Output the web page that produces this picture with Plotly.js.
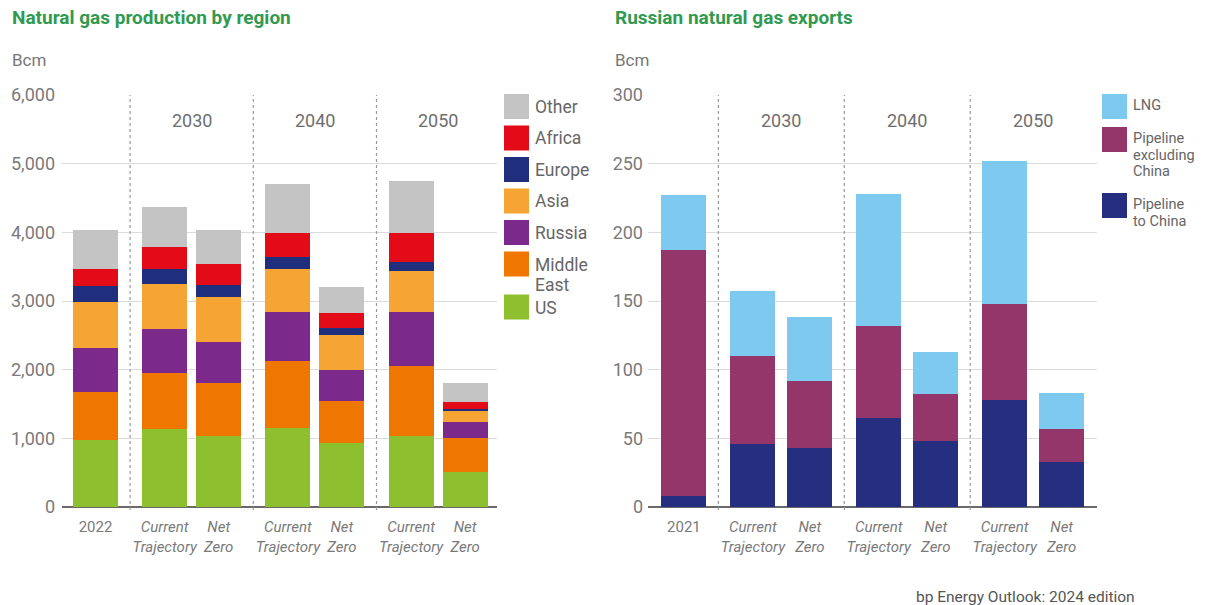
<!DOCTYPE html>
<html><head><meta charset="utf-8">
<script src="https://cdn.plot.ly/plotly-3.0.1.min.js"></script>
<style>body{margin:0;background:#fff}#chart{width:1217px;height:605px}</style>
</head><body><div id="chart"></div><script>
// ---------- DATA ----------
const prodCategories = ["2022", "2030 Current Trajectory", "2030 Net Zero", "2040 Current Trajectory", "2040 Net Zero", "2050 Current Trajectory", "2050 Net Zero"];
const prodTickLabels = ["2022", "<i>Current<br>Trajectory</i>", "<i>Net<br>Zero</i>", "<i>Current<br>Trajectory</i>", "<i>Net<br>Zero</i>", "<i>Current<br>Trajectory</i>", "<i>Net<br>Zero</i>"];
const prodUS         = [980, 1140, 1035, 1145, 935, 1040, 505];
const prodMiddleEast = [700, 810, 775, 980, 610, 1020, 495];
const prodRussia     = [640, 640, 590, 710, 450, 775, 235];
const prodAsia       = [670, 660, 655, 630, 510, 605, 165];
const prodEurope     = [230, 220, 180, 175, 95, 130, 30];
const prodAfrica     = [240, 315, 305, 345, 220, 425, 105];
const prodOther      = [580, 590, 490, 715, 390, 750, 265];

const expCategories = ["2021", "2030 Current Trajectory", "2030 Net Zero", "2040 Current Trajectory", "2040 Net Zero", "2050 Current Trajectory", "2050 Net Zero"];
const expTickLabels = ["2021", "<i>Current<br>Trajectory</i>", "<i>Net<br>Zero</i>", "<i>Current<br>Trajectory</i>", "<i>Net<br>Zero</i>", "<i>Current<br>Trajectory</i>", "<i>Net<br>Zero</i>"];
const expPipelineChina = [8, 46, 43, 65, 48, 78, 33];
const expPipelineExcl  = [179, 64, 49, 67, 34, 70, 24];
const expLNG           = [40, 47, 46, 96, 31, 104, 26];

const groupLabels = ["2030", "2040", "2050"];
const prodSeriesNames = ["US", "Middle<br>East", "Russia", "Asia", "Europe", "Africa", "Other"];
const expSeriesNames = ["Pipeline<br>to China", "Pipeline<br>excluding<br>China", "LNG"];

// ---------- STYLE ----------
const W = 1217, H = 605;
const FONT = "Roboto, 'Open Sans', sans-serif";
const prodColors = ["#8dbf2e", "#ee7601", "#7b2a8b", "#f6a434", "#1f2f7d", "#e30b17", "#c4c4c4"];
const expColors = ["#262f7f", "#95366b", "#7ec9ef"];
const px = x => x / W, py = y => 1 - y / H;

function slots(gap) { // bar positions: base year, then 3 groups of 2
  return [0, gap, gap + 1, 2 * gap + 1, 2 * gap + 2, 3 * gap + 2, 3 * gap + 3];
}
const posL = slots(1.28), posR = slots(1.21);

const prodSeries = [prodUS, prodMiddleEast, prodRussia, prodAsia, prodEurope, prodAfrica, prodOther];
const expSeries = [expPipelineChina, expPipelineExcl, expLNG];

const traces = [];
prodSeries.forEach((s, i) => traces.push({
  type: "bar", x: posL, y: s, xaxis: "x", yaxis: "y", width: 0.83,
  marker: {color: prodColors[i], line: {width: 0}}, name: prodSeriesNames[i].replace("<br>", " "),
  customdata: prodCategories, hovertemplate: "%{customdata}: %{y}<extra></extra>", showlegend: false
}));
expSeries.forEach((s, i) => traces.push({
  type: "bar", x: posR, y: s, xaxis: "x2", yaxis: "y2", width: 0.79,
  marker: {color: expColors[i], line: {width: 0}}, name: expSeriesNames[i].replace(/<br>/g, " "),
  customdata: expCategories, hovertemplate: "%{customdata}: %{y}<extra></extra>", showlegend: false
}));

const yBot = py(507), yTop = py(95);
const shapes = [], annotations = [];

// dividers + group labels
[[posL, "x"], [posR, "x2"]].forEach(([pos, xr]) => {
  for (let g = 0; g < 3; g++) {
    const xd = (pos[2 * g] + pos[2 * g + 1]) / 2;
    shapes.push({type: "line", xref: xr, yref: "paper", x0: xd, x1: xd, y0: py(510), y1: yTop,
      line: {color: "#9a9a9a", width: 1.2, dash: "3px,3px"}});
    const xc = (pos[2 * g + 1] + pos[2 * g + 2]) / 2;
    annotations.push({xref: xr, yref: "paper", x: xc, y: py(121), text: groupLabels[g], showarrow: false,
      xanchor: "center", yanchor: "middle", font: {family: FONT, size: 18, color: "#6e6e6e"}});
  }
});

// titles, units, source
const titleFont = {family: FONT, size: 19, color: "#2f9a50"};
annotations.push({xref: "paper", yref: "paper", x: px(10), y: py(18), text: "<b>Natural gas production by region</b>",
  showarrow: false, xanchor: "left", yanchor: "middle", font: titleFont});
annotations.push({xref: "paper", yref: "paper", x: px(613), y: py(18), text: "<b>Russian natural gas exports</b>",
  showarrow: false, xanchor: "left", yanchor: "middle", font: titleFont});
annotations.push({xref: "paper", yref: "paper", x: px(10), y: py(60), text: "Bcm", showarrow: false,
  xanchor: "left", yanchor: "middle", font: {family: FONT, size: 17, color: "#777"}});
annotations.push({xref: "paper", yref: "paper", x: px(613), y: py(60), text: "Bcm", showarrow: false,
  xanchor: "left", yanchor: "middle", font: {family: FONT, size: 17, color: "#777"}});
annotations.push({xref: "paper", yref: "paper", x: px(914), y: py(597), text: "bp Energy Outlook: 2024 edition", showarrow: false,
  xanchor: "left", yanchor: "middle", font: {family: FONT, size: 15.5, color: "#555"}});

// custom legends (top item first), one annotation per text line
function legend(names, colors, x0, yStart, sq, fontSize, lineStep, gap, firstOffset, extraPerLine) {
  let y = yStart;
  for (let i = names.length - 1; i >= 0; i--) {
    shapes.push({type: "rect", xref: "paper", yref: "paper", x0: px(x0), x1: px(x0 + sq), y0: py(y + sq), y1: py(y),
      fillcolor: colors[i], line: {width: 0}});
    const lines = names[i].split("<br>");
    lines.forEach((ln, k) => annotations.push({xref: "paper", yref: "paper", x: px(x0 + sq + 4),
      y: py(y + firstOffset + k * lineStep), text: ln, showarrow: false,
      xanchor: "left", yanchor: "middle", font: {family: FONT, size: fontSize, color: "#666"}}));
    y += sq + gap + (lines.length - 1) * extraPerLine;
  }
}
legend(prodSeriesNames, prodColors, 504, 94, 25, 17.5, 20, 6.5, 13, 11.5);
legend(expSeriesNames, expColors, 1102, 94, 25, 14.5, 16.5, 8, 11.5, 16.5);

const axisCommon = {showgrid: false, zeroline: false, showline: false, ticks: "", fixedrange: true, automargin: false};
const layout = {
  width: W, height: H, margin: {l: 0, r: 0, t: 0, b: 0}, paper_bgcolor: "#fff", plot_bgcolor: "#fff",
  barmode: "stack", bargap: 0, showlegend: false, font: {family: FONT, color: "#777"},
  xaxis: Object.assign({}, axisCommon, {domain: [px(62), px(497)], range: [-0.62, 7.43], tickmode: "array",
    tickvals: posL, ticktext: prodTickLabels, tickfont: {family: FONT, size: 15, color: "#7a7a7a"}, ticklabelstandoff: 9, anchor: "y"}),
  yaxis: Object.assign({}, axisCommon, {domain: [yBot, yTop], range: [0, 6000], tickvals: [0, 1000, 2000, 3000, 4000, 5000, 6000],
    ticktext: ["0", "1,000", "2,000", "3,000", "4,000", "5,000", "6,000"], showgrid: true, gridcolor: "#dcdcdc", gridwidth: 1,
    zeroline: true, zerolinecolor: "#6a6a6a", zerolinewidth: 1.5, tickfont: {family: FONT, size: 18, color: "#7a7a7a"},
    ticklabelstandoff: 6, anchor: "x"}),
  xaxis2: Object.assign({}, axisCommon, {domain: [px(648), px(1097)], range: [-0.63, 7.25], tickmode: "array",
    tickvals: posR, ticktext: expTickLabels, tickfont: {family: FONT, size: 15, color: "#7a7a7a"}, ticklabelstandoff: 9, anchor: "y2"}),
  yaxis2: Object.assign({}, axisCommon, {domain: [yBot, yTop], range: [0, 300], tickvals: [0, 50, 100, 150, 200, 250, 300],
    showgrid: true, gridcolor: "#dcdcdc", gridwidth: 1, zeroline: true, zerolinecolor: "#6a6a6a", zerolinewidth: 1.5,
    tickfont: {family: FONT, size: 18, color: "#7a7a7a"}, ticklabelstandoff: 4, anchor: "x2"}),
  shapes: shapes, annotations: annotations
};
Plotly.newPlot("chart", traces, layout, {displayModeBar: false, staticPlot: true});
</script></body></html>
